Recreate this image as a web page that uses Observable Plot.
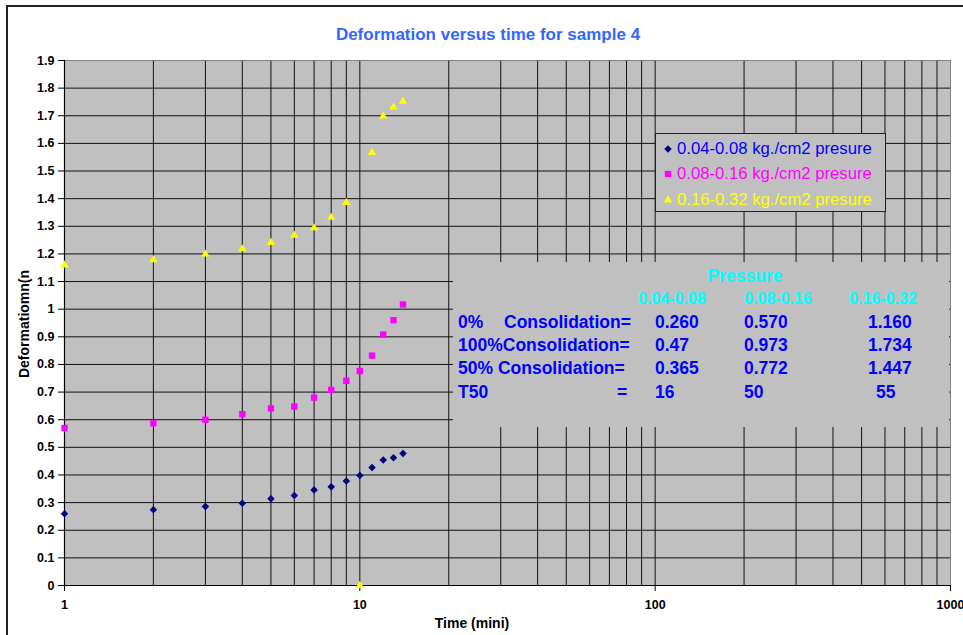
<!DOCTYPE html>
<html>
<head>
<meta charset="utf-8">
<script src="https://cdn.jsdelivr.net/npm/d3@7"></script>
<script src="https://cdn.jsdelivr.net/npm/@observablehq/plot@0.6"></script>
<style>
  body { margin: 0; background: #fff; overflow: hidden; font-family: "Liberation Sans", Arial, sans-serif; }
  #wrap { position: relative; width: 963px; height: 635px; overflow: hidden; background: #fff; }
  #wrap > svg { position: absolute; left: 0; top: 0; }
  .border { position: absolute; left: 6px; top: 5px; width: 1000px; height: 700px; border: 2px solid #222; box-sizing: border-box; }
  .t { position: absolute; white-space: pre; line-height: 1; }
  .legend { position: absolute; left: 655px; top: 133px; width: 231px; height: 79px; background: #c0c0c0; border: 1px solid #222; box-sizing: border-box; }
  .tablebg { position: absolute; left: 453px; top: 262px; width: 496px; height: 165px; background: #c0c0c0; }
</style>
</head>
<body>
<div id="wrap"><div class="border"></div></div>
<script>
// ---- data ----
const time = [1, 2, 3, 4, 5, 6, 7, 8, 9, 10, 11, 12, 13, 14];
const series1 = [0.260, 0.274, 0.286, 0.298, 0.314, 0.326, 0.346, 0.357, 0.378, 0.398, 0.427, 0.454, 0.462, 0.478];
const series2 = [0.570, 0.587, 0.600, 0.620, 0.641, 0.648, 0.680, 0.708, 0.741, 0.776, 0.832, 0.908, 0.960, 1.017];
const series3 = [1.160, 1.179, 1.199, 1.218, 1.241, 1.267, 1.294, 1.332, 1.386, 0, 1.567, 1.699, 1.731, 1.752];
const seriesNames = ["0.04-0.08 kg./cm2 presure", "0.08-0.16 kg./cm2 presure", "0.16-0.32 kg./cm2 presure"];
const xTicks = [1, 10, 100, 1000];
const yTicks = [0, 0.1, 0.2, 0.3, 0.4, 0.5, 0.6, 0.7, 0.8, 0.9, 1, 1.1, 1.2, 1.3, 1.4, 1.5, 1.6, 1.7, 1.8, 1.9];
const titleText = "Deformation versus time for sample 4";
const xLabel = "Time (mini)";
const yLabel = "Deformatiomn(n";
const tableTitle = "Pressure";
const tableColumns = ["0.04-0.08", "0.08-0.16", "0.16-0.32"];
const tableRowLabels = [["0%", "Consolidation="], ["100%Consolidation="], ["50% Consolidation="], ["T50", "="]];
const tableValues = [
  ["0.260", "0.570", "1.160"],
  ["0.47", "0.973", "1.734"],
  ["0.365", "0.772", "1.447"],
  ["16", "50", "55"]
];

// ---- styles ----
const markerColors = ["#000080", "#ff00ff", "#ffff00"];
const legendTextColors = ["#0000ff", "#ff00ff", "#ffff00"];
const symbols = ["diamond2", "square", "triangle"];
const radii = [3.4, 3.6, 3.1];

const rows = [];
[series1, series2, series3].forEach((s, k) => s.forEach((v, i) => rows.push({t: time[i], v, k})));

const gridX = d3.scaleLog().domain([1, 1000]).ticks().filter(d => d > 1 && d < 1000);
const gridY = yTicks.filter(d => d > 0 && d < 1.9);

const chart = Plot.plot({
  width: 963,
  height: 635,
  marginLeft: 64,
  marginRight: 13,
  marginTop: 60,
  marginBottom: 50,
  style: {fontFamily: "'Liberation Sans', Arial, sans-serif", fontSize: "12.5px", fontWeight: "bold", color: "#000", background: "transparent", overflow: "visible"},
  x: {type: "log", domain: [1, 1000]},
  y: {domain: [0, 1.9]},
  marks: [
    Plot.frame({fill: "#c0c0c0"}),
    Plot.ruleX(gridX, {stroke: "#111", strokeWidth: 1}),
    Plot.ruleY(gridY, {stroke: "#111", strokeWidth: 1}),
    Plot.frame({stroke: "#808080"}),
    Plot.ruleX([1], {stroke: "#000", strokeWidth: 1.2}),
    Plot.ruleY([0], {stroke: "#000", strokeWidth: 1.2}),
    Plot.axisX({ticks: xTicks, tickFormat: d => String(d), tickSize: 6, tickPadding: 9, label: null, stroke: "#000"}),
    Plot.axisY({ticks: yTicks, tickFormat: d => String(+d.toFixed(1)), tickSize: 6, tickPadding: 4, label: null}),
    ...[0, 1, 2].map(k => Plot.dot(rows.filter(r => r.k === k), {
      x: "t", y: "v", symbol: () => symbols[k], r: radii[k], fill: markerColors[k], stroke: "none"
    }))
  ]
});

const wrap = document.getElementById("wrap");
wrap.insertBefore(chart, wrap.firstChild);

function addText(txt, x, y, opts = {}) {
  const d = document.createElement("div");
  d.className = "t";
  d.textContent = txt;
  d.style.left = x + "px";
  d.style.top = y + "px";
  d.style.fontSize = (opts.size || 14) + "px";
  d.style.fontWeight = opts.weight || "bold";
  d.style.color = opts.color || "#000";
  const tx = opts.anchor === "middle" ? "-50%" : "0";
  d.style.transform = `translate(${tx},-50%)`;
  if (opts.rotate) { d.style.transform = `translate(-50%,-50%) rotate(${opts.rotate}deg)`; }
  wrap.appendChild(d);
  return d;
}

// title and axis titles
addText(titleText, 488, 34, {size: 17, color: "#3366ff", anchor: "middle"});
addText(xLabel, 472, 623, {size: 14, anchor: "middle"});
addText(yLabel, 24, 324, {size: 14, rotate: -90});

// legend
const legend = document.createElement("div");
legend.className = "legend";
wrap.appendChild(legend);
const legendRowY = [149, 174, 200];
seriesNames.forEach((name, k) => {
  const svg = d3.create("svg").attr("width", 12).attr("height", 12)
    .style("position", "absolute").style("left", (668 - 6) + "px").style("top", (legendRowY[k] - 6) + "px");
  svg.append("path")
    .attr("transform", "translate(6,6)")
    .attr("d", d3.symbol(k === 0 ? d3.symbolDiamond2 : k === 1 ? d3.symbolSquare : d3.symbolTriangle, Math.PI * radii[k] * radii[k])())
    .attr("fill", markerColors[k]);
  wrap.appendChild(svg.node());
  addText(name, 677, legendRowY[k], {size: 16.7, weight: "normal", color: legendTextColors[k]});
});

// table
const tb = document.createElement("div");
tb.className = "tablebg";
wrap.appendChild(tb);
addText(tableTitle, 745, 277, {size: 17.5, color: "#00ffff", anchor: "middle"});
const colCenters = [672, 778, 883];
tableColumns.forEach((c, j) => addText(c, colCenters[j], 299, {size: 16, color: "#00ffff", anchor: "middle"}));
const rowY = [323, 346, 369, 393];
const secondPartX = [504, null, null, 617];
const colLeft = [655, 744, 868];
tableRowLabels.forEach((parts, i) => {
  addText(parts[0], 458, rowY[i], {size: 17.5, color: "#0000ff"});
  if (parts[1]) addText(parts[1], secondPartX[i], rowY[i], {size: 17.5, color: "#0000ff"});
  tableValues[i].forEach((v, j) => {
    const nudge = (i === 3 && j === 2) ? 8 : 0;
    addText(v, colLeft[j] + nudge, rowY[i], {size: 17.5, color: "#0000ff"});
  });
});
</script>
</body>
</html>
